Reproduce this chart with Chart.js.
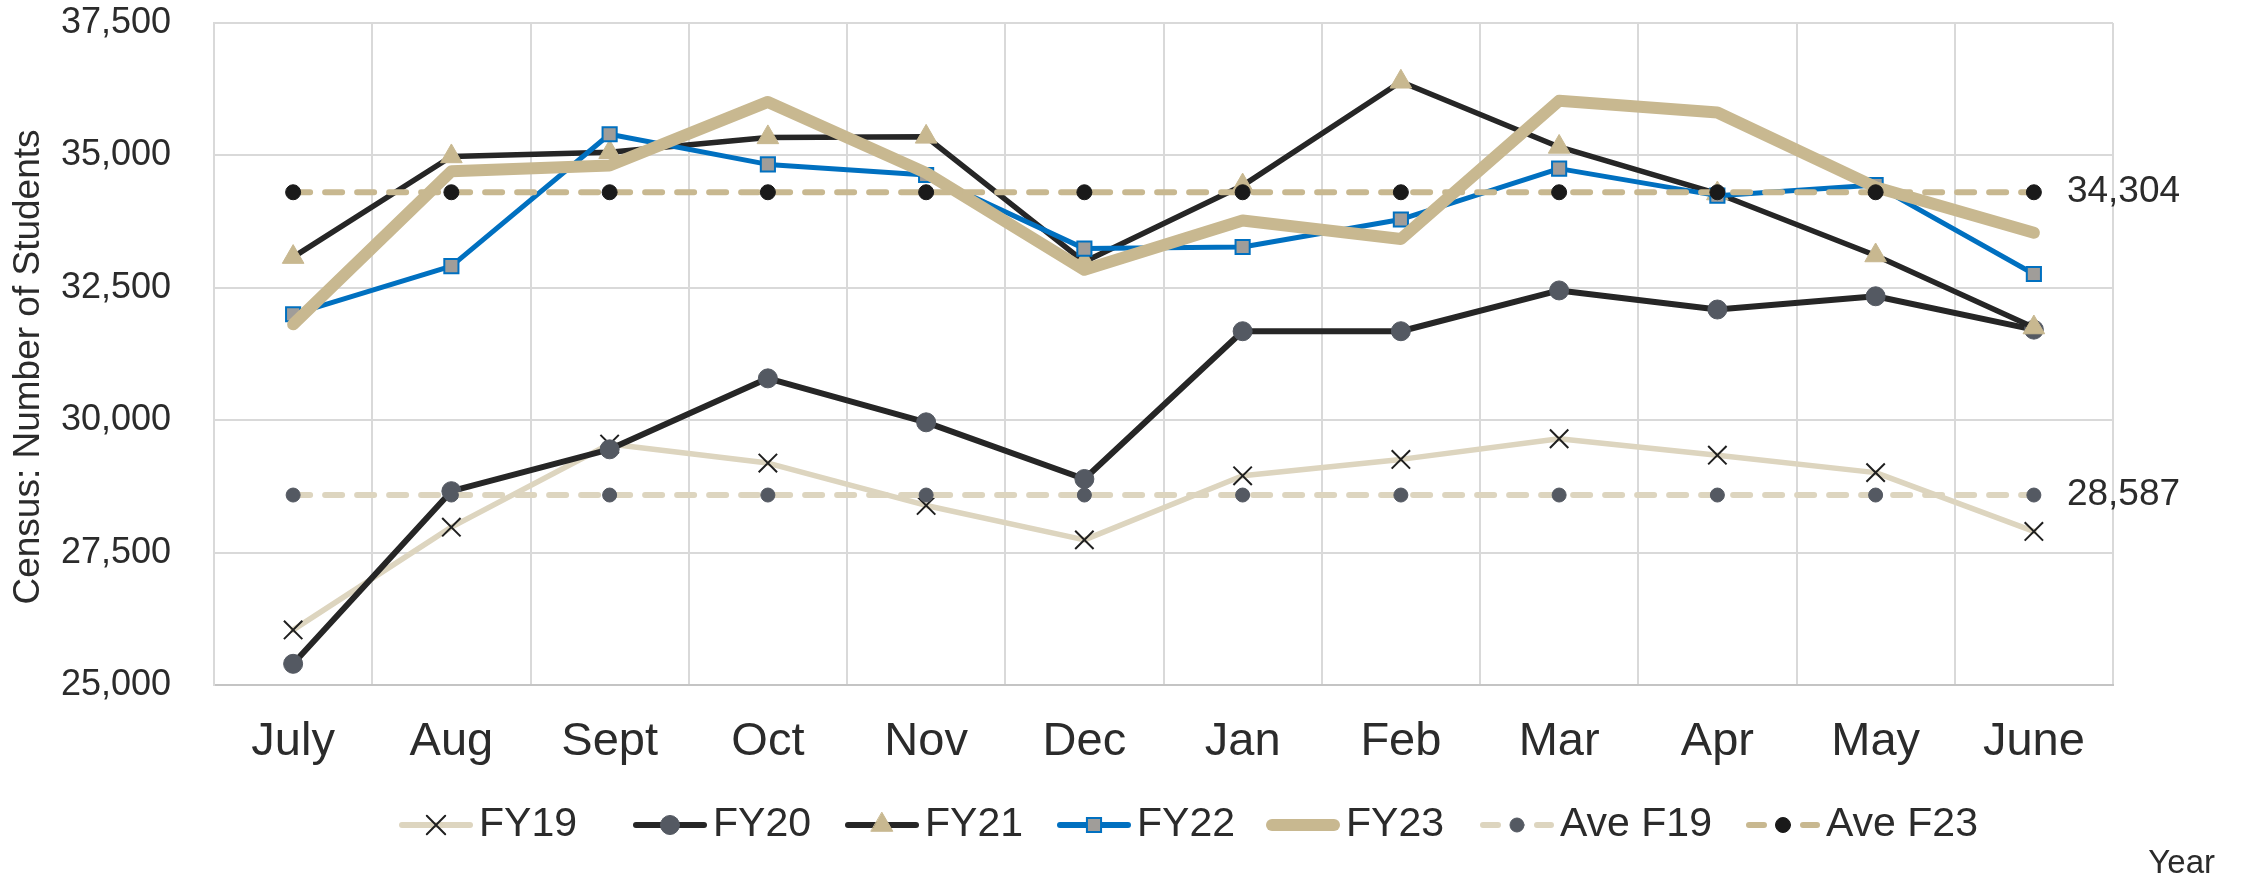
<!DOCTYPE html>
<html>
<head>
<meta charset="utf-8">
<title>Census: Number of Students</title>
<script src="https://cdn.jsdelivr.net/npm/chart.js@4.4.1/dist/chart.umd.min.js"></script>
<style>
html, body { margin: 0; padding: 0; background: #fff; }
#chart { display: block; }
</style>
</head>
<body>
<canvas id="chart" width="2241" height="879"></canvas>
<script>
// Data
const months = ['July', 'Aug', 'Sept', 'Oct', 'Nov', 'Dec', 'Jan', 'Feb', 'Mar', 'Apr', 'May', 'June'];
const fy19 = [26040, 27980, 29550, 29190, 28390, 27740, 28950, 29260, 29650, 29340, 29010, 27900];
const fy20 = [25400, 28660, 29450, 30790, 29960, 28890, 31680, 31680, 32450, 32090, 32340, 31710];
const fy21 = [33080, 34980, 35060, 35340, 35350, 32990, 34430, 36390, 35160, 34280, 33110, 31750];
const fy22 = [32000, 32910, 35400, 34830, 34630, 33240, 33270, 33790, 34750, 34240, 34440, 32760];
const fy23 = [31810, 34700, 34810, 36010, 34670, 32840, 33770, 33420, 36030, 35810, 34400, 33540];
const aveF19 = [28587, 28587, 28587, 28587, 28587, 28587, 28587, 28587, 28587, 28587, 28587, 28587];
const aveF23 = [34304, 34304, 34304, 34304, 34304, 34304, 34304, 34304, 34304, 34304, 34304, 34304];
const yTicks = [25000, 27500, 30000, 32500, 35000, 37500];

const FONT = "'Liberation Sans', Arial, sans-serif";
const TEXT = '#2B2B2B';
const TAN = '#C8B890';
const LIGHT_TAN = '#DDD5BF';
const DARK = '#262626';
const GRID = '#D9D9D9';

Chart.defaults.font.family = FONT;
Chart.defaults.color = TEXT;

const line = (label, data, color, width, extra) => Object.assign({
  label: label,
  data: data,
  borderColor: color,
  backgroundColor: color,
  borderWidth: width,
  borderCapStyle: 'round',
  borderJoinStyle: 'round',
  tension: 0,
  fill: false
}, extra);

// order: Excel paints later series on top
const datasets = [
  line('FY19', fy19, LIGHT_TAN, 5.5, { pointStyle: 'crossRot', pointRadius: 13, pointBorderColor: '#1F1F1F', pointBackgroundColor: 'rgba(0,0,0,0)', pointBorderWidth: 2, order: 7 }),
  line('FY20', fy20, DARK, 6, { pointStyle: 'circle', pointRadius: 9.5, pointBorderColor: '#545962', pointBackgroundColor: '#545962', pointBorderWidth: 1, order: 6 }),
  line('FY21', fy21, DARK, 5.5, { pointStyle: 'triangle', pointRadius: 12.5, pointBorderColor: TAN, pointBackgroundColor: TAN, pointBorderWidth: 1, order: 5 }),
  line('FY22', fy22, '#0070C0', 5, { pointStyle: 'rect', pointRadius: 10, pointBorderColor: '#0070C0', pointBackgroundColor: '#A09D99', pointBorderWidth: 2, order: 4 }),
  line('FY23', fy23, TAN, 12, { pointRadius: 0, order: 3 }),
  line('Ave F19', aveF19, LIGHT_TAN, 6, { borderDash: [17, 15], pointStyle: 'circle', pointRadius: 7, pointBorderColor: '#545962', pointBackgroundColor: '#545962', pointBorderWidth: 1, order: 2 }),
  line('Ave F23', aveF23, TAN, 6, { borderDash: [17, 15], pointStyle: 'circle', pointRadius: 7.5, pointBorderColor: '#1A1A1A', pointBackgroundColor: '#1A1A1A', pointBorderWidth: 1, order: 1 })
];

// legend item left edges (Excel-style line + marker samples)
const legendX = [399, 633, 845, 1057, 1266, 1480, 1746];
const labelledSeries = [5, 6];

const drawMarker = (ctx, ds, x, y) => {
  if (!ds.pointRadius) return;
  ctx.setLineDash([]);
  ctx.fillStyle = ds.pointBackgroundColor;
  ctx.strokeStyle = ds.pointBorderColor;
  ctx.lineWidth = ds.pointBorderWidth;
  Chart.helpers.drawPoint(ctx, {
    pointStyle: ds.pointStyle,
    radius: ds.pointRadius,
    rotation: 0,
    borderWidth: ds.pointBorderWidth
  }, x, y);
};

const extras = {
  id: 'extras',
  afterDatasetsDraw(chart) {
    const ctx = chart.ctx;
    ctx.save();
    ctx.font = '37px ' + FONT;
    ctx.fillStyle = TEXT;
    ctx.textAlign = 'left';
    ctx.textBaseline = 'middle';
    labelledSeries.forEach(i => {
      const meta = chart.getDatasetMeta(i);
      const last = meta.data.length - 1;
      const pt = meta.data[last];
      const v = chart.data.datasets[i].data[last];
      ctx.fillText(v.toLocaleString('en-US'), pt.x + 33, pt.y);
    });
    ctx.restore();
  },
  afterDraw(chart) {
    const ctx = chart.ctx;
    const y = 825;
    chart.data.datasets.forEach((ds, i) => {
      const x0 = legendX[i];
      ctx.save();
      ctx.strokeStyle = ds.borderColor;
      ctx.lineWidth = Math.max(ds.borderWidth, 6);
      ctx.lineCap = 'round';
      const r = ctx.lineWidth / 2;
      if (ds.borderDash) ctx.setLineDash([15, 39]);
      ctx.beginPath();
      ctx.moveTo(x0 + r, y);
      ctx.lineTo(x0 + 74 - r, y);
      ctx.stroke();
      drawMarker(ctx, ds, x0 + 37, y);
      ctx.font = '41px ' + FONT;
      ctx.fillStyle = TEXT;
      ctx.textAlign = 'left';
      ctx.textBaseline = 'middle';
      ctx.fillText(ds.label, x0 + 80, y);
      ctx.restore();
    });
    ctx.save();
    ctx.fillStyle = TEXT;
    ctx.font = '33px ' + FONT;
    ctx.textAlign = 'right';
    ctx.textBaseline = 'alphabetic';
    ctx.fillText('Year', 2215, 873);
    // y axis title, placed as in the reference (slightly below the plot centre)
    ctx.font = '37px ' + FONT;
    ctx.textAlign = 'center';
    ctx.textBaseline = 'middle';
    ctx.translate(29, 367);
    ctx.rotate(-Math.PI / 2);
    ctx.fillText('Census: Number of Students', 0, 0);
    ctx.restore();
  }
};

new Chart(document.getElementById('chart').getContext('2d'), {
  type: 'line',
  data: { labels: months, datasets: datasets },
  options: {
    responsive: false,
    animation: false,
    events: [],
    layout: { autoPadding: false, padding: { top: 23, right: 128, bottom: 94, left: 0 } },
    plugins: { legend: { display: false }, tooltip: { enabled: false } },
    scales: {
      x: {
        offset: true,
        grid: { offset: true, color: GRID, lineWidth: 2, drawTicks: true, tickLength: 29, tickColor: 'rgba(0,0,0,0)' },
        border: { display: true, color: '#C4C4C4', width: 2 },
        ticks: { font: { size: 47 }, color: TEXT, padding: 0, maxRotation: 0, autoSkip: false },
        afterFit: s => { s.height = 100; }
      },
      y: {
        min: 25000,
        max: 37500,
        afterBuildTicks: s => { s.ticks = yTicks.map(v => ({ value: v })); },
        grid: { color: GRID, lineWidth: 2, drawTicks: true, tickLength: 43, tickColor: 'rgba(0,0,0,0)' },
        border: { display: true, color: GRID, width: 2 },
        ticks: { font: { size: 36 }, color: TEXT, padding: 0, callback: v => v.toLocaleString('en-US') },
        title: { display: false },
        afterFit: s => { s.width = 214; }
      }
    }
  },
  plugins: [extras]
});
</script>
</body>
</html>
